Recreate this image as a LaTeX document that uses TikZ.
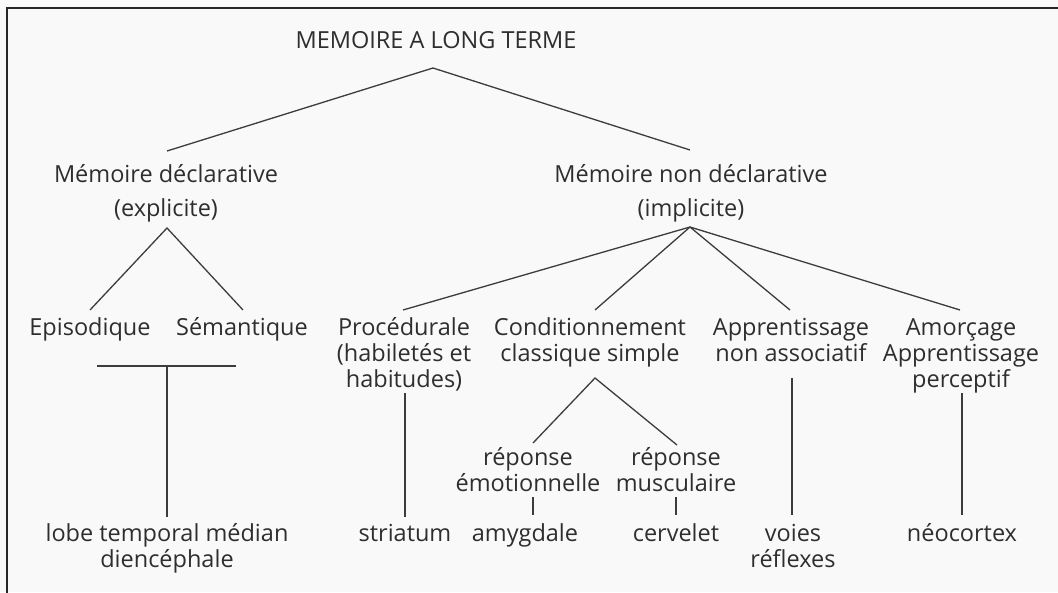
\documentclass[tikz,border=0pt]{standalone}
\usepackage{fontspec}
\setmainfont{Open Sans}
\definecolor{bg}{HTML}{F9F9F9}
\definecolor{ink}{HTML}{2E2E2E}
\definecolor{wire}{HTML}{3C3C3C}
\begin{document}
\begin{tikzpicture}[x=1pt,y=-1pt,
  lbl/.style={text=ink,inner sep=0pt,align=center,font=\fontsize{23.5}{26}\selectfont},
  toplbl/.style={lbl,font=\fontsize{23.5}{34}\selectfont},
  link/.style={draw=wire,line width=1.3pt},
  frameline/.style={draw=black!85,line width=2pt}]
\fill[bg] (0,0) rectangle (1058,592);
\useasboundingbox (0,0) rectangle (1058,592);
\draw[frameline] (7,620) -- (7,8) -- (1080,8);
% nodes (anchor base = baseline of last line)
\node[lbl,anchor=base] (root) at (436,48) {MEMOIRE A LONG TERME};
\node[toplbl,anchor=base] (decl) at (166,216) {Mémoire déclarative\\(explicite)};
\node[toplbl,anchor=base] (ndecl) at (691,216) {Mémoire non déclarative\\(implicite)};
\node[lbl,anchor=base] (epi) at (90,335) {Episodique};
\node[lbl,anchor=base] (sem) at (242,335) {Sémantique};
\node[lbl,anchor=base] (proc) at (404,387) {Procédurale\\(habiletés et\\habitudes)};
\node[lbl,anchor=base] (cond) at (590,361) {Conditionnement\\classique simple};
\node[lbl,anchor=base] (appr) at (791,361) {Apprentissage\\non associatif};
\node[lbl,anchor=base] (amor) at (961,387) {Amorçage\\Apprentissage\\perceptif};
\node[lbl,anchor=base] (emo) at (528,491) {réponse\\émotionnelle};
\node[lbl,anchor=base] (musc) at (676,491) {réponse\\musculaire};
\node[lbl,anchor=base] (lobe) at (167,567) {lobe temporal médian\\diencéphale};
\node[lbl,anchor=base] (stri) at (405,541) {striatum};
\node[lbl,anchor=base] (amyg) at (525,541) {amygdale};
\node[lbl,anchor=base] (cerv) at (676,541) {cervelet};
\node[lbl,anchor=base] (voies) at (793,567) {voies\\réflexes};
\node[lbl,anchor=base] (neo) at (962,541) {néocortex};
% junction points
\coordinate (rootJ) at (433,68);
\coordinate (declT) at (167,151);
\coordinate (ndeclT) at (690,150);
\coordinate (declJ) at (167,228);
\coordinate (epiT) at (90,310);
\coordinate (semT) at (243,310);
\coordinate (barL) at (97,366);
\coordinate (barR) at (236,366);
\coordinate (barM) at (167,366);
\coordinate (lobeT) at (167,517);
\coordinate (ndeclJ) at (690,227);
\coordinate (procT) at (403,310);
\coordinate (condT) at (595,310);
\coordinate (apprT) at (790,310);
\coordinate (amorT) at (960,310);
\coordinate (procB) at (405,393);
\coordinate (striT) at (405,517);
\coordinate (condJ) at (595,378);
\coordinate (emoT) at (533,443);
\coordinate (muscT) at (677,445);
\coordinate (emoB) at (533,497);
\coordinate (amygT) at (533,515);
\coordinate (muscB) at (676,497);
\coordinate (cervT) at (676,515);
\coordinate (apprB) at (792,378);
\coordinate (voiesT) at (792,515);
\coordinate (amorB) at (962,393);
\coordinate (neoT) at (962,515);
% connectors
\draw[link] (declT) -- (rootJ) -- (ndeclT);
\draw[link] (epiT) -- (declJ) -- (semT);
\draw[link] (barL) -- (barR);
\draw[link] (barM) -- (lobeT);
\draw[link] (ndeclJ) -- (procT);
\draw[link] (ndeclJ) -- (condT);
\draw[link] (ndeclJ) -- (apprT);
\draw[link] (ndeclJ) -- (amorT);
\draw[link] (procB) -- (striT);
\draw[link] (emoT) -- (condJ) -- (muscT);
\draw[link] (emoB) -- (amygT);
\draw[link] (muscB) -- (cervT);
\draw[link] (apprB) -- (voiesT);
\draw[link] (amorB) -- (neoT);
\end{tikzpicture}
\end{document}
